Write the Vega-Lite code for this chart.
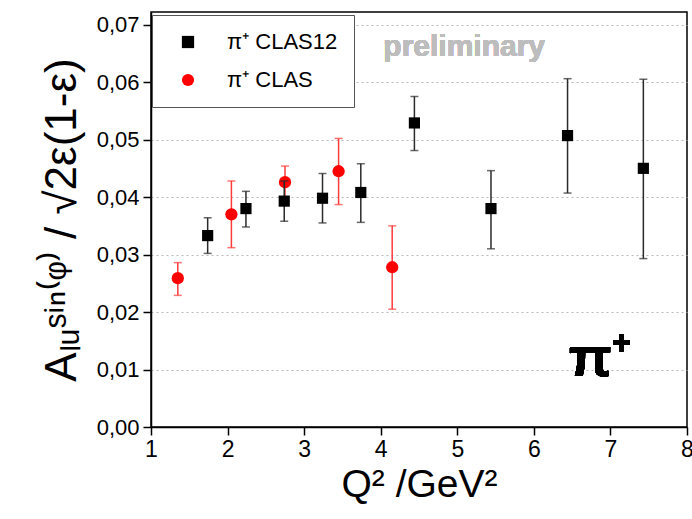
{
  "$schema": "https://vega.github.io/schema/vega-lite/v6.json",
  "width": 536,
  "height": 415,
  "autosize": {"type": "none"},
  "padding": {"left": 151, "top": 12, "right": 5, "bottom": 92},
  "background": "#ffffff",
  "config": {
    "font": "Liberation Sans",
    "view": {"stroke": "#000000", "strokeWidth": 1.5},
    "axis": {
      "domainColor": "#000000",
      "domainWidth": 1.5,
      "tickColor": "#000000",
      "tickWidth": 1.5,
      "labelColor": "#000000",
      "labelFont": "Liberation Sans",
      "titleFont": "Liberation Sans",
      "titleColor": "#000000",
      "titleFontWeight": "normal",
      "labelOverlap": false,
      "labelFlush": false
    }
  },
  "data": {
    "values": [
      {"set": "CLAS", "label": "π⁺ CLAS", "q2": 1.35, "a": 0.0259, "lo": 0.0229, "hi": 0.0286},
      {"set": "CLAS", "label": "π⁺ CLAS", "q2": 2.05, "a": 0.0370, "lo": 0.0312, "hi": 0.0428},
      {"set": "CLAS", "label": "π⁺ CLAS", "q2": 2.75, "a": 0.0426, "lo": 0.0399, "hi": 0.0454},
      {"set": "CLAS", "label": "π⁺ CLAS", "q2": 3.45, "a": 0.0445, "lo": 0.0387, "hi": 0.0502},
      {"set": "CLAS", "label": "π⁺ CLAS", "q2": 4.15, "a": 0.0278, "lo": 0.0205, "hi": 0.0350},
      {"set": "CLAS12", "label": "π⁺ CLAS12", "q2": 1.74, "a": 0.0333, "lo": 0.0302, "hi": 0.0364},
      {"set": "CLAS12", "label": "π⁺ CLAS12", "q2": 2.24, "a": 0.0380, "lo": 0.0348, "hi": 0.0410},
      {"set": "CLAS12", "label": "π⁺ CLAS12", "q2": 2.74, "a": 0.0393, "lo": 0.0358, "hi": 0.0428},
      {"set": "CLAS12", "label": "π⁺ CLAS12", "q2": 3.24, "a": 0.0398, "lo": 0.0355, "hi": 0.0441},
      {"set": "CLAS12", "label": "π⁺ CLAS12", "q2": 3.74, "a": 0.0408, "lo": 0.0356, "hi": 0.0458},
      {"set": "CLAS12", "label": "π⁺ CLAS12", "q2": 4.44, "a": 0.0529, "lo": 0.0481, "hi": 0.0575},
      {"set": "CLAS12", "label": "π⁺ CLAS12", "q2": 5.44, "a": 0.0380, "lo": 0.0310, "hi": 0.0446},
      {"set": "CLAS12", "label": "π⁺ CLAS12", "q2": 6.44, "a": 0.0507, "lo": 0.0407, "hi": 0.0606},
      {"set": "CLAS12", "label": "π⁺ CLAS12", "q2": 7.43, "a": 0.0450, "lo": 0.0293, "hi": 0.0605}
    ]
  },
  "layer": [
    {
      "transform": [{"filter": "datum.set === 'CLAS'"}],
      "mark": {"type": "errorbar", "color": "#ff3b3b", "thickness": 1.5, "ticks": {"size": 8, "thickness": 1.5}},
      "encoding": {
        "x": {
          "field": "q2", "type": "quantitative", "title": "Q² /GeV²",
          "scale": {"domain": [1, 8], "nice": false, "zero": false},
          "axis": {
            "titleFontSize": 39,
            "titlePadding": 4,
            "values": [1, 1.5, 2, 2.5, 3, 3.5, 4, 4.5, 5, 5.5, 6, 6.5, 7, 7.5, 8],
            "labelExpr": "datum.value % 1 === 0 ? format(datum.value, 'd') : ''",
            "labelFontSize": 23,
            "labelPadding": 3,
            "grid": false,
            "tickSize": {"condition": {"test": "datum.value % 1 === 0", "value": 8}, "value": 4}
          }
        },
        "y": {
          "field": "lo", "type": "quantitative", "title": "Aₗᵤˢⁱⁿ⁽ᵠ⁾ / √2ε(1-ε)",
          "scale": {"domain": [0, 0.0722], "nice": false, "zero": false},
          "axis": {
            "titleFontSize": 44,
            "titlePadding": 12,
            "values": [0, 0.005, 0.01, 0.015, 0.02, 0.025, 0.03, 0.035, 0.04, 0.045, 0.05, 0.055, 0.06, 0.065, 0.07],
            "labelExpr": "round(datum.value * 1000) % 10 === 0 ? replace(format(datum.value, '.2f'), '.', ',') : ''",
            "labelFontSize": 22,
            "labelPadding": 4,
            "grid": true,
            "gridColor": "#b8b8b8",
            "gridDash": [2, 3],
            "gridWidth": 1,
            "gridOpacity": {"condition": {"test": "round(datum.value * 1000) % 10 === 0 && datum.value > 0", "value": 1}, "value": 0},
            "tickSize": {"condition": {"test": "round(datum.value * 1000) % 10 === 0", "value": 8}, "value": 4}
          }
        },
        "y2": {"field": "hi"}
      }
    },
    {
      "transform": [{"filter": "datum.set === 'CLAS'"}],
      "mark": {"type": "point", "filled": true, "opacity": 1, "size": 150},
      "encoding": {
        "x": {"field": "q2", "type": "quantitative", "title": "Q² /GeV²"},
        "y": {"field": "a", "type": "quantitative", "title": "Aₗᵤˢⁱⁿ⁽ᵠ⁾ / √2ε(1-ε)"},
        "color": {
          "field": "label", "type": "nominal",
          "scale": {"domain": ["π⁺ CLAS12", "π⁺ CLAS"], "range": ["#000000", "#ff0000"]},
          "legend": {
            "title": null, "orient": "none", "legendX": 1, "legendY": 3,
            "strokeColor": "#555555", "fillColor": "#ffffff", "padding": 16,
            "labelFontSize": 22, "labelColor": "#000000", "labelFont": "Liberation Sans",
            "symbolSize": 150, "rowPadding": 16, "labelOffset": 28, "symbolOffset": 9,
            "symbolStrokeWidth": 0
          }
        },
        "shape": {
          "field": "label", "type": "nominal",
          "scale": {"domain": ["π⁺ CLAS12", "π⁺ CLAS"], "range": ["square", "circle"]},
          "legend": {
            "title": null, "orient": "none", "legendX": 1, "legendY": 3,
            "strokeColor": "#555555", "fillColor": "#ffffff", "padding": 16,
            "labelFontSize": 22, "labelColor": "#000000", "labelFont": "Liberation Sans",
            "symbolSize": 150, "rowPadding": 16, "labelOffset": 28, "symbolOffset": 9,
            "symbolStrokeWidth": 0
          }
        }
      }
    },
    {
      "transform": [{"filter": "datum.set === 'CLAS12'"}],
      "mark": {"type": "errorbar", "color": "#2a2a2a", "thickness": 1.5, "ticks": {"size": 8, "thickness": 1.5}},
      "encoding": {
        "x": {"field": "q2", "type": "quantitative", "title": "Q² /GeV²"},
        "y": {"field": "lo", "type": "quantitative", "title": "Aₗᵤˢⁱⁿ⁽ᵠ⁾ / √2ε(1-ε)"},
        "y2": {"field": "hi"}
      }
    },
    {
      "transform": [{"filter": "datum.set === 'CLAS12'"}],
      "mark": {"type": "point", "filled": true, "opacity": 1, "size": 125},
      "encoding": {
        "x": {"field": "q2", "type": "quantitative", "title": "Q² /GeV²"},
        "y": {"field": "a", "type": "quantitative", "title": "Aₗᵤˢⁱⁿ⁽ᵠ⁾ / √2ε(1-ε)"},
        "color": {"field": "label", "type": "nominal"},
        "shape": {"field": "label", "type": "nominal"}
      }
    },
    {
      "mark": {"type": "text", "text": "preliminary", "font": "Liberation Sans", "fontWeight": "bold", "fontSize": 30, "color": "#bdbdbd", "align": "center", "baseline": "middle"},
      "encoding": {
        "x": {"datum": 5.09, "type": "quantitative", "title": "Q² /GeV²"},
        "y": {"datum": 0.0661, "type": "quantitative", "title": "Aₗᵤˢⁱⁿ⁽ᵠ⁾ / √2ε(1-ε)"}
      }
    },
    {
      "mark": {"type": "text", "text": "π⁺", "font": "Liberation Sans", "fontWeight": "bold", "fontSize": 56, "color": "#000000", "align": "center", "baseline": "middle"},
      "encoding": {
        "x": {"datum": 6.86, "type": "quantitative", "title": "Q² /GeV²"},
        "y": {"datum": 0.0118, "type": "quantitative", "title": "Aₗᵤˢⁱⁿ⁽ᵠ⁾ / √2ε(1-ε)"}
      }
    }
  ]
}
